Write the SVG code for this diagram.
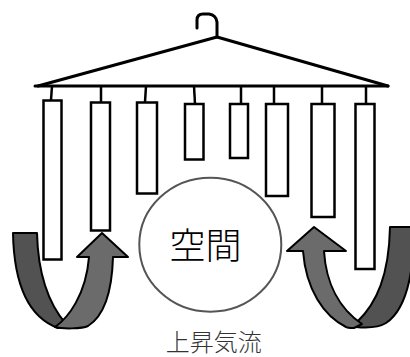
<svg xmlns="http://www.w3.org/2000/svg" width="410" height="357" viewBox="0 0 410 357">
  <style>
    .frame { fill: none; stroke: #000; stroke-width: 3; stroke-linecap: round; stroke-linejoin: round; }
    .cord { fill: none; stroke: #000; stroke-width: 2.5; }
    .cloth { fill: #fff; stroke: #000; stroke-width: 2.5; }
    .back { fill: #525252; stroke: #000; stroke-width: 2; stroke-linejoin: round; }
    .front { fill: #6b6b6b; stroke: #000; stroke-width: 2; stroke-linejoin: round; }
    .space { fill: #fff; stroke: #555; stroke-width: 2; }
    .label { font-family: "Noto Sans CJK JP", "Noto Sans", sans-serif; font-weight: 300; text-anchor: middle; }
  </style>

  <!-- hanger frame with hook -->
  <g id="hanger">
    <path class="frame" d="M197,28 V20 Q197,14 203,14 H209 Q216,15 217,22 V37"/>
    <path class="frame" d="M38,86 L217,37 L388,86"/>
    <path class="frame" d="M35,86 H388" stroke-linecap="butt"/>
  </g>

  <!-- cords from the bar to each hanging cloth -->
  <g id="connectors">
    <line class="cord" x1="52" y1="86" x2="51" y2="100"/>
    <line class="cord" x1="101" y1="86" x2="101" y2="102"/>
    <line class="cord" x1="146" y1="86" x2="145" y2="102"/>
    <line class="cord" x1="194" y1="86" x2="195" y2="104"/>
    <line class="cord" x1="241" y1="86" x2="241" y2="104"/>
    <line class="cord" x1="274" y1="86" x2="274" y2="104"/>
    <line class="cord" x1="322" y1="86" x2="322" y2="104"/>
    <line class="cord" x1="366" y1="86" x2="366" y2="104"/>
  </g>

  <!-- hanging cloths -->
  <g id="cloth1"><rect class="cloth" x="43.5" y="100.5" width="18" height="159"/></g>
  <g id="cloth2"><rect class="cloth" x="91" y="102.5" width="19" height="128"/></g>
  <g id="cloth3"><rect class="cloth" x="137" y="102.5" width="20" height="91"/></g>
  <g id="cloth4"><rect class="cloth" x="185" y="104" width="18.5" height="55.5"/></g>
  <g id="cloth5"><rect class="cloth" x="230" y="104" width="18" height="54"/></g>
  <g id="cloth6"><rect class="cloth" x="266" y="104" width="22" height="92"/></g>
  <g id="cloth7"><rect class="cloth" x="311.5" y="104" width="23" height="113"/></g>
  <g id="cloth8"><rect class="cloth" x="355.5" y="104" width="19" height="165"/></g>

  <!-- central open space -->
  <g id="space">
    <ellipse class="space" cx="210.3" cy="244.7" rx="71" ry="67"/>
    <text class="label" x="205.5" y="259" font-size="36" fill="#000">空間</text>
  </g>

  <!-- left updraft arrow: back band, then front band with head -->
  <g id="updraft-left">
    <path class="back" d="M13,233 H37 C38,275 48,303 66,324 L58,328 C28,317 14,285 13,233 Z"/>
    <path class="front" d="M55,327 C68,318 86,295 89,257 H77 L102,233 L128,257 H113 C112,292 104,316 88,326 C82,329 62,329 55,327 Z"/>
  </g>

  <!-- right updraft arrow: back band, then front band with head -->
  <g id="updraft-right">
    <path class="back" d="M390,227 H414 C414,282 404,311 386,323 C378,328 366,328 356,327 L357,322 C377,303 389,275 390,227 Z"/>
    <path class="front" d="M303,251 H287 L314,227 L346,251 H324 C326,284 340,309 362,324 L354,328 C347,328 346,327 346,327 C324,316 306,290 303,251 Z"/>
  </g>

  <g id="caption">
    <text class="label" x="213.7" y="351" font-size="24" fill="#333">上昇気流</text>
  </g>
</svg>
